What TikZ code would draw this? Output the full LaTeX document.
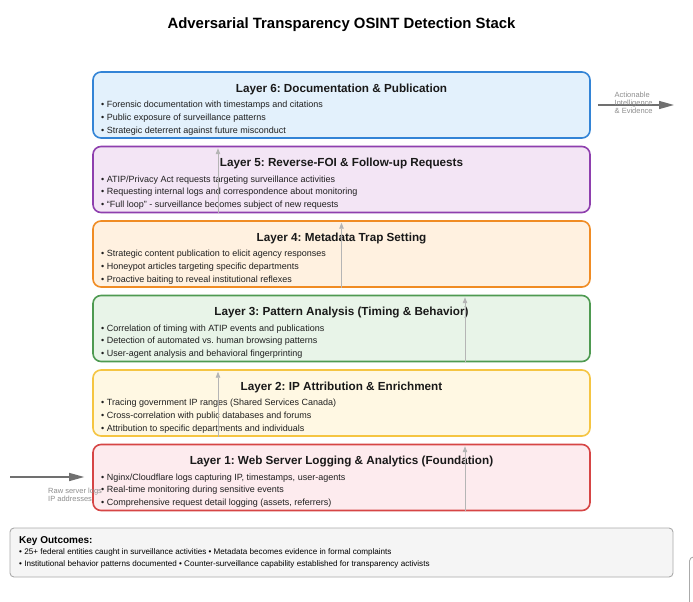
\documentclass[tikz,border=0pt]{standalone}
\usepackage{fontspec}
\setmainfont{Liberation Sans}
\usetikzlibrary{arrows.meta,positioning}
\frenchspacing

\definecolor{docline}{HTML}{3384D6}  \definecolor{docfill}{HTML}{E3F1FC}
\definecolor{foiline}{HTML}{8E3FAE}  \definecolor{foifill}{HTML}{F3E5F5}
\definecolor{trapline}{HTML}{F08C24} \definecolor{trapfill}{HTML}{FFF1E0}
\definecolor{patline}{HTML}{4E9A51}  \definecolor{patfill}{HTML}{E8F4E8}
\definecolor{ipline}{HTML}{F5C542}   \definecolor{ipfill}{HTML}{FFF8E3}
\definecolor{logline}{HTML}{D64545}  \definecolor{logfill}{HTML}{FDEBEE}
\definecolor{feedgray}{HTML}{707070}
\definecolor{notegray}{HTML}{8E8E8E}
\definecolor{linkgray}{HTML}{B5B5B5}
\definecolor{keyline}{HTML}{AAAAAA}
\definecolor{keyfill}{HTML}{F5F5F5}

\tikzset{
  layer/.style={rounded corners=8pt, line width=1.6pt, minimum width=497pt, minimum height=66pt, inner sep=0pt},
  layertitle/.style={inner sep=0pt, text=black!90, font=\bfseries\fontsize{11.7}{13}\selectfont},
  point/.style={anchor=west, inner sep=0pt, text=black!88, font=\fontsize{9}{11}\selectfont},
  uplink/.style={draw=linkgray, line width=0.8pt, -{Triangle[length=6pt,width=4.5pt]}},
  feed/.style={draw=feedgray, line width=1.3pt, -{Triangle[length=15pt,width=8pt]}},
  sidenote/.style={align=left, anchor=north west, inner sep=0pt, text=notegray, font=\fontsize{7.5}{8.4}\selectfont},
}

\begin{document}
\begin{tikzpicture}[x=1pt,y=-1pt]
    \useasboundingbox[fill=white] (0,0) rectangle (693,602);

    \node[font=\bfseries\fontsize{14.9}{16}\selectfont] (title) at (341.5,25) {Adversarial Transparency OSINT Detection Stack};

    % layer 6
    \node[layer, draw=docline, fill=docfill] (l6) at (341.5,105) {};
    \node[layertitle] (l6t) at (341.5,89) {Layer 6: Documentation \& Publication};
    \foreach \t [count=\i] in {{Forensic documentation with timestamps and citations},
                               {Public exposure of surveillance patterns},
                               {Strategic deterrent against future misconduct}}
        \node[point] (l6b\i) at (101,105.5+12.6*\i-12.6) {\textbullet\ \t};

    % layer 5
    \node[layer, draw=foiline, fill=foifill] (l5) at (341.5,179.5) {};
    \node[layertitle] (l5t) at (341.5,163.5) {Layer 5: Reverse-FOI \& Follow-up Requests};
    \foreach \t [count=\i] in {{ATIP/Privacy Act requests targeting surveillance activities},
                               {Requesting internal logs and correspondence about monitoring},
                               {``Full loop'' - surveillance becomes subject of new requests}}
        \node[point] (l5b\i) at (101,180+12.6*\i-12.6) {\textbullet\ \t};

    % layer 4
    \node[layer, draw=trapline, fill=trapfill] (l4) at (341.5,254) {};
    \node[layertitle] (l4t) at (341.5,238) {Layer 4: Metadata Trap Setting};
    \foreach \t [count=\i] in {{Strategic content publication to elicit agency responses},
                               {Honeypot articles targeting specific departments},
                               {Proactive baiting to reveal institutional reflexes}}
        \node[point] (l4b\i) at (101,254.5+12.6*\i-12.6) {\textbullet\ \t};

    % layer 3
    \node[layer, draw=patline, fill=patfill] (l3) at (341.5,328.5) {};
    \node[layertitle] (l3t) at (341.5,312.5) {Layer 3: Pattern Analysis (Timing \& Behavior)};
    \foreach \t [count=\i] in {{Correlation of timing with ATIP events and publications},
                               {Detection of automated vs. human browsing patterns},
                               {User-agent analysis and behavioral fingerprinting}}
        \node[point] (l3b\i) at (101,329+12.6*\i-12.6) {\textbullet\ \t};

    % layer 2
    \node[layer, draw=ipline, fill=ipfill] (l2) at (341.5,403) {};
    \node[layertitle] (l2t) at (341.5,387) {Layer 2: IP Attribution \& Enrichment};
    \foreach \t [count=\i] in {{Tracing government IP ranges (Shared Services Canada)},
                               {Cross-correlation with public databases and forums},
                               {Attribution to specific departments and individuals}}
        \node[point] (l2b\i) at (101,403.5+12.6*\i-12.6) {\textbullet\ \t};

    % layer 1
    \node[layer, draw=logline, fill=logfill] (l1) at (341.5,477.5) {};
    \node[layertitle] (l1t) at (341.5,461.5) {Layer 1: Web Server Logging \& Analytics (Foundation)};
    \foreach \t [count=\i] in {{Nginx/Cloudflare logs capturing IP, timestamps, user-agents},
                               {Real-time monitoring during sensitive events},
                               {Comprehensive request detail logging (assets, referrers)}}
        \node[point] (l1b\i) at (101,478+12.6*\i-12.6) {\textbullet\ \t};

    % upward flow
    \draw[uplink] ([xshift=123.5pt]l1.south) -- ([xshift=123.5pt,yshift=-2.5pt]l1.north);
    \draw[uplink] ([xshift=-123.5pt]l2.south) -- ([xshift=-123.5pt,yshift=-2.5pt]l2.north);
    \draw[uplink] ([xshift=123.5pt]l3.south) -- ([xshift=123.5pt,yshift=-2.5pt]l3.north);
    \draw[uplink] (l4.south) -- ([yshift=-2.5pt]l4.north);
    \draw[uplink] ([xshift=-123.5pt]l5.south) -- ([xshift=-123.5pt,yshift=-2.5pt]l5.north);

    % input and output
    \coordinate (rawin) at (10,477);
    \draw[feed] (rawin) -- ([xshift=-8pt]l1.west |- rawin);
    \node[sidenote] (rawnote) at (48,487.5) {Raw server logs\\IP addresses};

    \coordinate (intelout) at (674,105);
    \draw[feed] ([xshift=7pt]l6.east) -- (intelout);
    \node[sidenote] (intelnote) at (614.5,91.5) {Actionable\\Intelligence\\\& Evidence};

    % outcomes
    \node[rounded corners=4pt, draw=keyline, fill=keyfill, line width=0.9pt, minimum width=663pt, minimum height=49pt, inner sep=0pt] (keys) at (341.5,552.5) {};
    \node[anchor=west, inner sep=0pt, font=\bfseries\fontsize{10}{11}\selectfont] (keyhead) at (19,541) {Key Outcomes:};
    \node[anchor=west, inner sep=0pt, font=\fontsize{8.1}{9}\selectfont] (key1) at (19,552.5) {\textbullet\ 25+ federal entities caught in surveillance activities \textbullet\ Metadata becomes evidence in formal complaints};
    \node[anchor=west, inner sep=0pt, font=\fontsize{8.1}{9}\selectfont] (key2) at (19,564.5) {\textbullet\ Institutional behavior patterns documented \textbullet\ Counter-surveillance capability established for transparency activists};

    \draw[keyline, line width=0.9pt, rounded corners=4pt] (689.5,602) -- (689.5,557) -- (700,557);
\end{tikzpicture}
\end{document}
